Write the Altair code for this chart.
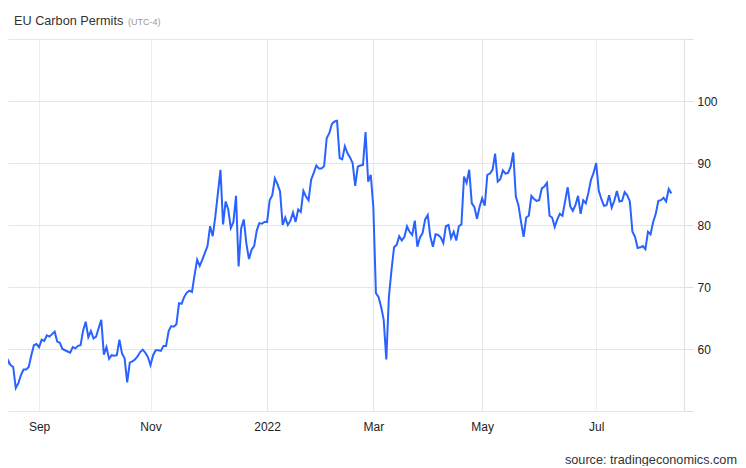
import altair as alt
import pandas as pd
import numpy as np

TITLE = "EU Carbon Permits"
TZ = "(UTC-4)"
SOURCE = "source: tradingeconomics.com"
START = "2021-08-11"
HOLIDAYS = ["2022-04-15", "2022-04-18"]
TICK_MONTHS = ["2021-09", "2021-11", "2022-01", "2022-03", "2022-05", "2022-07"]
TICK_LABELS = ["Sep", "Nov", "2022", "Mar", "May", "Jul"]
GRAY_GRID_MONTHS = ["2022-01", "2022-03", "2022-05"]
Y_TICKS = [50, 60, 70, 80, 90, 100, 110]

values = [
    58.0, 57.0, 55.6, 58.2, 57.4, 57.1, 53.7, 54.5, 55.8, 56.7,
    56.7, 57.1, 59.0, 60.6, 60.8, 60.3, 61.5, 61.3, 62.2, 62.0,
    62.4, 62.8, 61.2, 61.0, 60.0, 59.8, 59.6, 59.4, 60.3, 60.1,
    60.5, 60.6, 63.0, 64.4, 61.9, 62.9, 61.7, 62.0, 63.4, 64.7,
    59.1, 60.3, 58.4, 59.0, 58.9, 59.0, 61.5, 59.3, 58.5, 54.6,
    57.8, 58.0, 58.3, 58.8, 59.5, 59.9, 59.4, 58.7, 57.4, 59.0,
    59.8, 59.8, 59.7, 60.5, 60.5, 62.9, 63.7, 63.6, 64.0, 67.4,
    67.3, 68.4, 69.1, 69.4, 69.2, 71.9, 74.4, 73.4, 74.4, 75.5,
    76.6, 79.8, 78.2, 81.3, 85.1, 88.9, 80.1, 83.8, 82.5, 79.5,
    80.5, 84.7, 73.3, 79.5, 80.9, 77.0, 74.5, 76.0, 76.6, 79.1,
    80.3, 80.2, 80.5, 80.5, 84.0, 84.8, 87.5, 86.6, 85.4, 80.0,
    81.2, 80.0, 80.7, 82.0, 80.5, 82.5, 82.1, 85.5, 84.6, 84.0,
    87.3, 88.4, 89.6, 89.1, 89.1, 89.5, 94.0, 94.8, 96.3, 96.7,
    96.8, 90.8, 90.6, 92.7, 91.6, 90.9, 90.0, 86.3, 89.4, 89.6,
    89.7, 95.0, 87.0, 88.1, 82.9, 69.0, 68.4, 66.8, 64.7, 58.3,
    68.4, 72.7, 76.4, 76.8, 78.2, 77.5, 78.1, 79.8, 78.9, 78.4,
    80.7, 76.5, 78.0, 78.7, 80.9, 81.6, 78.1, 76.5, 78.5, 78.4,
    78.0, 77.1, 79.8, 80.0, 77.9, 78.9, 77.5, 79.8, 80.1, 87.8,
    86.8, 88.9, 83.5, 82.9, 81.0, 82.9, 84.3, 83.1, 88.1, 88.3,
    88.9, 91.5, 87.0, 87.4, 88.8, 88.3, 88.4, 89.4, 91.7, 84.6,
    83.2, 80.5, 78.1, 81.2, 81.5, 84.7, 84.2, 83.9, 84.0, 85.9,
    86.2, 86.8, 81.5, 81.2, 79.7, 80.9, 81.8, 81.5, 83.8, 86.1,
    83.0, 82.3, 83.2, 84.7, 81.8, 84.0, 83.5, 85.2, 87.3, 88.4,
    90.0, 85.5, 84.2, 83.1, 83.2, 84.8, 82.8, 83.9, 85.5, 83.8,
    83.9, 85.3, 84.8, 83.8, 78.9, 78.1, 76.3, 76.4, 76.6, 76.1,
    78.9, 78.5, 80.5, 81.8, 83.9, 84.0, 84.4, 83.8, 85.8, 85.1,
]

dates = pd.bdate_range(start=START, periods=len(values), freq="C", holidays=HOLIDAYS)
df = pd.DataFrame({
    "date": dates.strftime("%Y-%m-%d"),
    "idx": np.arange(len(values)),
    "value": values,
})

months = dates.strftime("%Y-%m")
tick_idx = [int(np.argmax(months == m)) for m in TICK_MONTHS]
gray_idx = [int(np.argmax(months == m)) for m in GRAY_GRID_MONTHS]

label_expr = " : ".join(
    f"datum.value == {i} ? '{lab}'" for i, lab in zip(tick_idx, TICK_LABELS)
) + " : ''"
gray_test = " || ".join(f"datum.value == {i}" for i in gray_idx)

FONT = "Liberation Sans"

line = alt.Chart(df).mark_line(color="#2962ff", strokeWidth=2, clip=True).encode(
    x=alt.X(
        "idx:Q",
        scale=alt.Scale(domain=[3.0, 263.9], nice=False, zero=False),
        axis=alt.Axis(
            values=tick_idx,
            labelExpr=label_expr,
            title=None,
            domain=False,
            ticks=False,
            grid=True,
            gridColor={"condition": {"test": gray_test, "value": "#e6e6e6"}, "value": "#e7eef6"},
            gridWidth=1,
            labelPadding=10,
            labelFontSize=12,
            labelFont=FONT,
            labelColor="#222",
        ),
    ),
    y=alt.Y(
        "value:Q",
        scale=alt.Scale(domain=[50, 110], nice=False, zero=False),
        axis=alt.Axis(
            orient="right",
            values=Y_TICKS,
            labelExpr="datum.value == 50 || datum.value == 110 ? '' : datum.label",
            title=None,
            domain=True,
            domainColor="#e0e0e0",
            ticks=True,
            tickColor="#e0e0e0",
            tickSize=9,
            grid=True,
            gridColor="#e6e6e6",
            labelPadding=4,
            labelFontSize=12,
            labelFont=FONT,
            labelColor="#222",
        ),
    ),
)

title_txt = alt.Chart(pd.DataFrame({"t": [TITLE]})).mark_text(
    align="left", baseline="middle", fontSize=12.7, font=FONT, color="#333"
).encode(x=alt.value(6), y=alt.value(-18), text="t:N")

tz_txt = alt.Chart(pd.DataFrame({"t": [TZ]})).mark_text(
    align="left", baseline="middle", fontSize=9, font=FONT, color="#999"
).encode(x=alt.value(120), y=alt.value(-17), text="t:N")

src_txt = alt.Chart(pd.DataFrame({"t": [SOURCE]})).mark_text(
    align="right", baseline="middle", fontSize=12.7, font=FONT, color="#333"
).encode(x=alt.value(729), y=alt.value(421), text="t:N")

chart = alt.layer(line, title_txt, tz_txt, src_txt).properties(
    width=676,
    height=372,
    autosize=alt.AutoSizeParams(type="none"),
    padding={"left": 0, "top": 31, "right": 54, "bottom": 55},
).configure_view(stroke=None)

chart.save("out.html", embed_options={"renderer": "svg", "actions": False})
